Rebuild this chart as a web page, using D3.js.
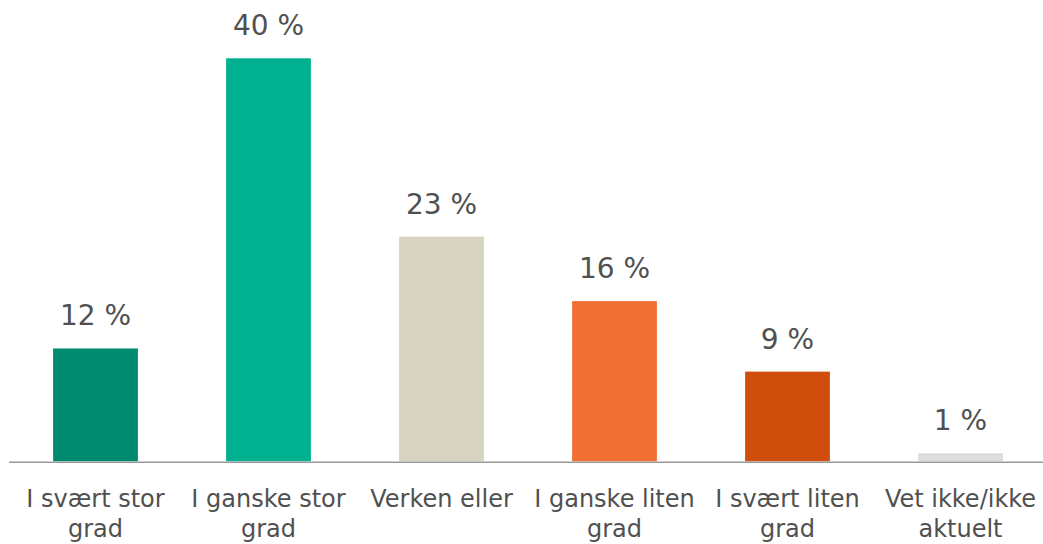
<!DOCTYPE html>
<html>
<head>
<meta charset="utf-8">
<script src="https://cdn.jsdelivr.net/npm/d3@7"></script>
<style>
  body { margin: 0; background: #fff; }
  svg { display: block; }
  text { font-family: "DejaVu Sans", sans-serif; fill: #505050; }
</style>
</head>
<body>
<svg id="chart" width="1043" height="544"></svg>
<script>
// answers, as lines of the category label
const categoryLines = [
    ["I svært stor", "grad"],
    ["I ganske stor", "grad"],
    ["Verken eller"],
    ["I ganske liten", "grad"],
    ["I svært liten", "grad"],
    ["Vet ikke/ikke", "aktuelt"]
];
const categories = categoryLines.map(l => l.join(" "));
// bar heights (percent)
const values = [11.2, 40, 22.3, 15.9, 8.9, 0.8];
// printed labels above bars
const valueLabels = ["12 %", "40 %", "23 %", "16 %", "9 %", "1 %"];
const colors = ["#008A6E", "#00B08E", "#D6D3C0", "#F26F33", "#D04E0C", "#DDDDDD"];

const svg = d3.select("#chart");
const baseline = 461.3;

const x = d3.scaleBand()
    .domain(categories)
    .range([9, 1047])
    .paddingInner(0.51)
    .paddingOuter(0.255);

const y = d3.scaleLinear()
    .domain([0, 40])
    .range([baseline, 58.3]);

svg.selectAll("rect.bar")
    .data(values)
    .enter()
    .append("rect")
    .attr("class", "bar")
    .attr("x", (d, i) => x(categories[i]))
    .attr("width", x.bandwidth())
    .attr("y", d => y(d))
    .attr("height", d => baseline - y(d))
    .style("fill", (d, i) => colors[i]);

// baseline axis
svg.append("line")
    .attr("x1", 9)
    .attr("x2", 1043)
    .attr("y1", baseline + 1)
    .attr("y2", baseline + 1)
    .style("stroke", "#999")
    .style("stroke-width", 1.6);

// value labels
svg.selectAll("text.val")
    .data(values)
    .enter()
    .append("text")
    .attr("class", "val")
    .attr("x", (d, i) => x(categories[i]) + x.bandwidth() / 2)
    .attr("y", d => y(d) - 23)
    .attr("text-anchor", "middle")
    .style("font-size", "28px")
    .text((d, i) => valueLabels[i]);

// category labels
categoryLines.forEach((lines, i) => {
    const t = svg.append("text")
        .attr("text-anchor", "middle")
        .style("font-size", "24px");
    lines.forEach((line, j) => {
        t.append("tspan")
            .attr("x", x(categories[i]) + x.bandwidth() / 2)
            .attr("y", 507 + j * 30)
            .text(line);
    });
});
</script>
</body>
</html>
